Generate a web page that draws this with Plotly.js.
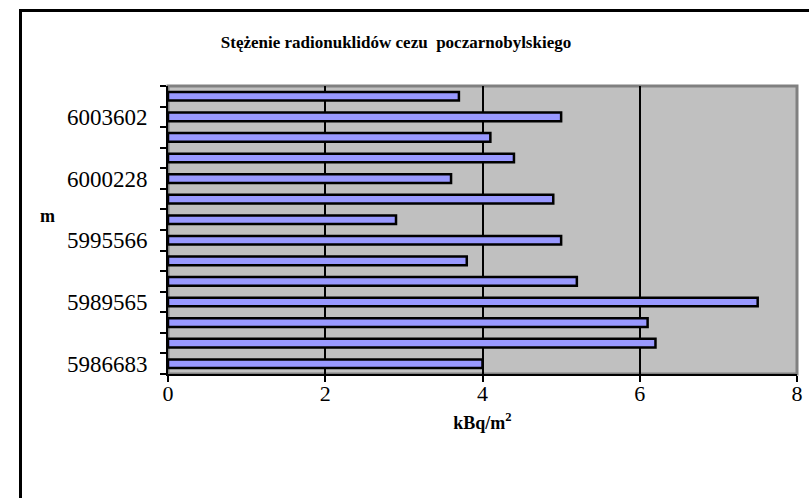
<!DOCTYPE html>
<html>
<head>
<meta charset="utf-8">
<script src="https://cdn.plot.ly/plotly-3.0.1.min.js"></script>
<style>
html,body{margin:0;padding:0;background:#fff;overflow:hidden;}
#chart{position:absolute;left:0;top:0;width:809px;height:498px;}
#frame{position:absolute;left:19px;top:9px;width:820px;height:520px;border-left:3px solid #000;border-top:3px solid #000;pointer-events:none;}
</style>
</head>
<body>
<div id="chart"></div>
<div id="frame"></div>
<script>
// values listed from the bottom category to the top category
const values = [4.0, 6.2, 6.1, 7.5, 5.2, 3.8, 5.0, 2.9, 4.9, 3.6, 4.4, 4.1, 5.0, 3.7];
// category labels; only every third one is printed in the reference, the rest are unreadable
const categoryLabels = ["5986683", "", "", "5989565", "", "", "5995566", "", "", "6000228", "", "", "6003602", ""];
const positions = values.map((v, i) => i);
const xTicks = [0, 2, 4, 6, 8];
const titleText = "Stężenie radionuklidów cezu  poczarnobylskiego";
const xTitle = "kBq/m<sup>2</sup>";
const yTitle = "m";

const font = "Liberation Serif, Times New Roman, serif";

const trace = {
  type: "bar",
  orientation: "h",
  x: values,
  y: positions,
  marker: {color: "#9999FF", line: {color: "#000", width: 2.5}},
  hoverinfo: "x"
};

const layout = {
  width: 809, height: 498,
  margin: {l: 168, r: 12, t: 86, b: 124},
  paper_bgcolor: "#fff",
  plot_bgcolor: "#C0C0C0",
  bargap: 0.58,
  showlegend: false,
  font: {family: font, color: "#000"},
  title: {
    text: "<b>" + titleText + "</b>",
    font: {family: font, size: 17, color: "#000"},
    x: 396 / 809, xref: "container", xanchor: "center",
    y: 1 - 42 / 498, yref: "container", yanchor: "middle"
  },
  xaxis: {
    range: [0, 8],
    tickvals: xTicks,
    ticks: "outside", ticklen: 6, tickwidth: 2, tickcolor: "#000",
    ticklabelstandoff: -7,
    tickfont: {family: font, size: 22},
    showgrid: true, gridcolor: "#000", gridwidth: 2,
    zeroline: false,
    showline: true, linecolor: "#000", linewidth: 2,
    title: {text: "<b>" + xTitle + "</b>", font: {family: font, size: 18}, standoff: 11},
    fixedrange: true
  },
  yaxis: {
    type: "category",
    tickmode: "array",
    tickvals: positions,
    ticktext: categoryLabels,
    tickson: "boundaries",
    ticks: "outside", ticklen: 6, tickwidth: 2, tickcolor: "#000",
    ticklabelstandoff: 14,
    tickfont: {family: font, size: 23},
    showgrid: false, zeroline: false,
    showline: true, linecolor: "#000", linewidth: 2,
    fixedrange: true
  },
  shapes: [{
    type: "rect", xref: "paper", yref: "paper", x0: 0, x1: 1, y0: 0, y1: 1,
    line: {color: "#808080", width: 3}, layer: "below"
  }],
  annotations: [{
    text: "<b>" + yTitle + "</b>", xref: "paper", yref: "paper",
    x: -0.192, y: 0.55, xanchor: "center", yanchor: "middle",
    showarrow: false, font: {family: font, size: 18, color: "#000"}
  }]
};

Plotly.newPlot("chart", [trace], layout, {displayModeBar: false, staticPlot: true});
</script>
</body>
</html>
